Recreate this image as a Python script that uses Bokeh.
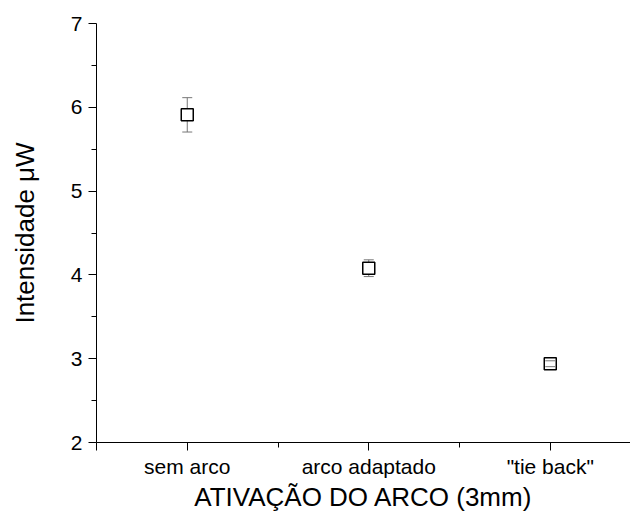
from bokeh.plotting import figure
from bokeh.models import ColumnDataSource, FixedTicker, Range1d
from bokeh.embed import file_html
from bokeh.resources import INLINE

# Data
categories = ["sem arco", "arco adaptado", "\"tie back\""]
means = [5.91, 4.08, 2.94]
errors = [0.205, 0.10, 0.035]
y_ticks = [2, 3, 4, 5, 6, 7]

xs = list(range(1, len(categories) + 1))
src = ColumnDataSource(data=dict(
    x=xs,
    y=means,
    upper=[m + e for m, e in zip(means, errors)],
    lower=[m - e for m, e in zip(means, errors)],
))

FONT = "Liberation Sans"
ERR = "#777777"

p = figure(width=630, height=520, output_backend="svg", toolbar_location=None,
           x_range=Range1d(0.5, 3.442), y_range=Range1d(2, 7),
           min_border_left=96, min_border_right=0, min_border_top=23, min_border_bottom=78)
p.outline_line_color = None
p.grid.visible = False
p.background_fill_color = "white"
p.border_fill_color = "white"

# error bars: stem under the marker, caps on top
p.segment(x0="x", y0="lower", x1="x", y1="upper", source=src, line_color=ERR, line_width=1)
p.scatter("x", "y", source=src, marker="square", size=12,
          line_color="black", line_width=1.5, fill_color="white")
p.scatter("x", "upper", source=src, marker="dash", size=10, line_color=ERR, line_width=1)
p.scatter("x", "lower", source=src, marker="dash", size=10, line_color=ERR, line_width=1)

# x axis
p.xaxis.ticker = FixedTicker(ticks=[0.5] + xs, minor_ticks=[1.5, 2.5])
overrides = {0.5: ""}
for xv, c in zip(xs, categories):
    overrides[xv] = c
p.xaxis.major_label_overrides = overrides
p.xaxis.axis_label = "ATIVAÇÃO DO ARCO (3mm)"

# y axis
p.yaxis.ticker = FixedTicker(ticks=y_ticks, minor_ticks=[t + 0.5 for t in y_ticks[:-1]])
p.yaxis.axis_label = "Intensidade μW"

for ax in (p.xaxis, p.yaxis):
    ax.axis_line_color = "black"
    ax.axis_line_width = 1
    ax.major_tick_line_color = "black"
    ax.minor_tick_line_color = "black"
    ax.major_tick_out = 8
    ax.major_tick_in = 0
    ax.minor_tick_out = 5
    ax.minor_tick_in = 0
    ax.major_label_text_font = FONT
    ax.major_label_text_font_size = "21px"
    ax.major_label_text_color = "black"
    ax.axis_label_text_font = FONT
    ax.axis_label_text_font_size = "26px"
    ax.axis_label_text_font_style = "normal"
    ax.axis_label_text_color = "black"

p.xaxis.major_label_standoff = 4
p.xaxis.axis_label_standoff = 1
p.yaxis.major_label_standoff = 6
p.yaxis.axis_label_standoff = 28

open("out.html", "w").write(file_html(p, INLINE))
